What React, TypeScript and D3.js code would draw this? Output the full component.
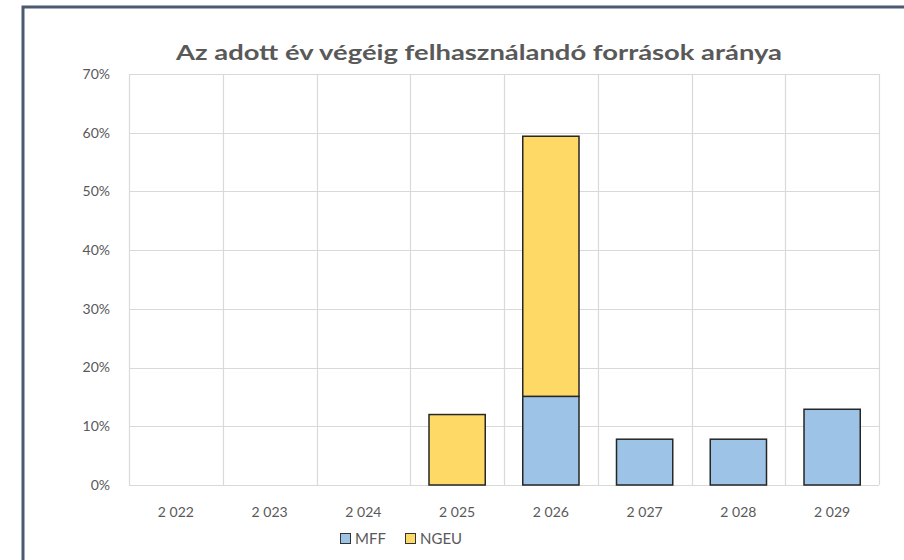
import { useEffect, useRef } from 'react';
import * as d3 from 'd3';

const years = ['2 022', '2 023', '2 024', '2 025', '2 026', '2 027', '2 028', '2 029'];
const mffValues = [0, 0, 0, 0, 15.1, 7.8, 7.8, 12.9];
const ngeuValues = [0, 0, 0, 12.0, 44.3, 0, 0, 0];
const yTicks = [0, 10, 20, 30, 40, 50, 60, 70];
const seriesNames = ['MFF', 'NGEU'];
const seriesColors = ['#9dc3e6', '#ffd966'];

const TITLE = 'Az adott év végéig felhasználandó források aránya';

export default function App() {
  const svgRef = useRef<SVGSVGElement | null>(null);

  useEffect(() => {
    if (!svgRef.current) return;
    const svg = d3.select(svgRef.current);
    svg.selectAll('*').remove();

    const width = 904;
    const height = 560;
    const font = "Lato, 'Open Sans', sans-serif";
    const margin = { top: 74, right: 25, bottom: 75, left: 129 };
    const w = width - margin.left - margin.right;
    const h = height - margin.top - margin.bottom;

    // outer frame (only top and left edges visible)
    svg.append('path')
      .attr('d', `M23,${height} L23,7 L${width},7`)
      .attr('fill', 'none')
      .attr('stroke', '#4b5a70')
      .attr('stroke-width', 3);

    svg.append('text')
      .attr('x', 479)
      .attr('y', 60)
      .attr('text-anchor', 'middle')
      .attr('font-family', font)
      .attr('font-weight', 'bold')
      .attr('font-size', 21)
      .attr('fill', '#595959')
      .attr('textLength', 606)
      .attr('lengthAdjust', 'spacingAndGlyphs')
      .text(TITLE);

    const g = svg.append('g').attr('transform', `translate(${margin.left},${margin.top})`);

    const x = d3.scaleBand<string>().domain(years).range([0, w]).paddingInner(0.4).paddingOuter(0.2);
    const y = d3.scaleLinear().domain([0, 70]).range([h, 0]);

    // horizontal gridlines
    g.append('g')
      .selectAll('line')
      .data(yTicks)
      .join('line')
      .attr('x1', 0)
      .attr('x2', w)
      .attr('y1', (d) => Math.round(y(d)) + 0.5)
      .attr('y2', (d) => Math.round(y(d)) + 0.5)
      .attr('stroke', '#d9d9d9')
      .attr('stroke-width', 1.2);

    // vertical gridlines at category boundaries
    const step = x.step();
    const bounds = d3.range(years.length + 1).map((i) => i * step);
    g.append('g')
      .selectAll('line')
      .data(bounds)
      .join('line')
      .attr('x1', (d) => Math.round(d) + 0.5)
      .attr('x2', (d) => Math.round(d) + 0.5)
      .attr('y1', 0)
      .attr('y2', h)
      .attr('stroke', '#d9d9d9')
      .attr('stroke-width', 1.2);

    // y axis labels
    g.append('g')
      .selectAll('text')
      .data(yTicks)
      .join('text')
      .attr('x', -19)
      .attr('y', (d) => y(d))
      .attr('dy', '0.35em')
      .attr('text-anchor', 'end')
      .attr('font-family', font)
      .attr('font-size', 14)
      .attr('fill', '#595959')
      .text((d) => `${d}%`);

    // x axis labels
    g.append('g')
      .selectAll('text')
      .data(years)
      .join('text')
      .attr('x', (d) => (x(d) ?? 0) + x.bandwidth() / 2)
      .attr('y', h + 27)
      .attr('dy', '0.35em')
      .attr('text-anchor', 'middle')
      .attr('font-family', font)
      .attr('font-size', 14)
      .attr('fill', '#595959')
      .text((d) => d);

    // stacked bars
    const rows = years.map((yr, i) => ({ year: yr, MFF: mffValues[i], NGEU: ngeuValues[i] }));
    const stacked = d3.stack<any>().keys(seriesNames)(rows);

    stacked.forEach((layer, li) => {
      g.append('g')
        .selectAll('rect')
        .data(layer.filter((d) => d[1] - d[0] > 0))
        .join('rect')
        .attr('x', (d) => x(d.data.year) ?? 0)
        .attr('y', (d) => y(d[1]))
        .attr('width', x.bandwidth())
        .attr('height', (d) => y(d[0]) - y(d[1]))
        .attr('fill', seriesColors[li])
        .attr('stroke', '#262626')
        .attr('stroke-width', 1.5);
    });

    // legend
    const legend = svg.append('g').attr('transform', 'translate(340,538)');
    const offsets = [0, 65];
    seriesNames.forEach((name, i) => {
      const lg = legend.append('g').attr('transform', `translate(${offsets[i]},0)`);
      lg.append('rect')
        .attr('x', 0.5)
        .attr('y', -4.5)
        .attr('width', 10)
        .attr('height', 10)
        .attr('fill', seriesColors[i])
        .attr('stroke', '#333')
        .attr('stroke-width', 1);
      lg.append('text')
        .attr('x', 15)
        .attr('y', 1)
        .attr('dy', '0.35em')
        .attr('font-family', font)
        .attr('font-size', 15)
        .attr('fill', '#595959')
        .text(name);
    });
  }, []);

  return <svg ref={svgRef} width={904} height={560} style={{ display: 'block', position: 'absolute', left: 0, top: 0 }} />;
}
